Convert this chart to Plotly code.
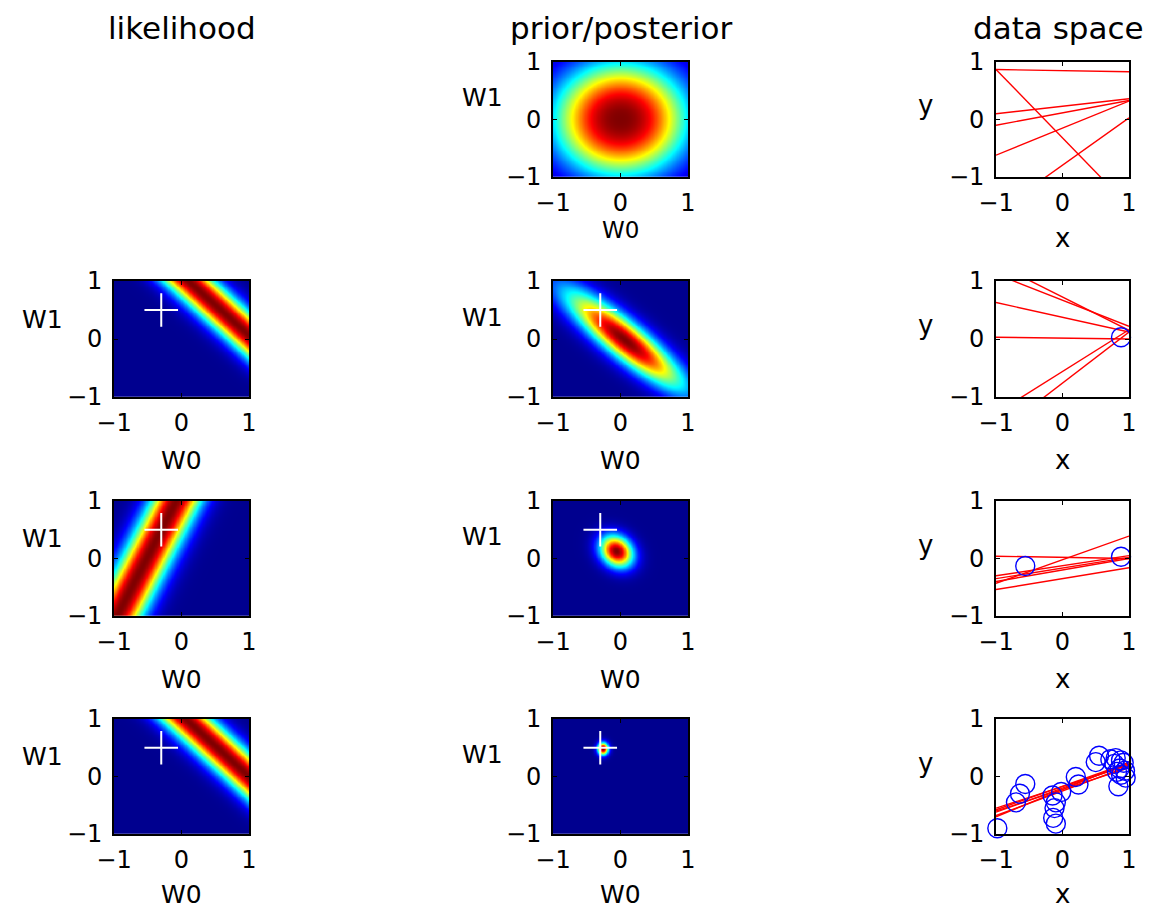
import numpy as np
import plotly.graph_objects as go

# ---------------- data ----------------
titles = ["likelihood", "prior/posterior", "data space"]
tick_vals = [-1, 0, 1]
tick_text = ["\u22121", "0", "1"]

true_w0 = -0.3
true_w1 = 0.5

# likelihood bands of the latest observation (rows 2-4): w0 + x*w1 = t
like_x = [0.95, -0.435, 0.93]
like_t = [1.05, -0.515, 0.99]
like_sd = [0.27, 0.26, 0.27]

# prior (row 1) and posteriors (rows 2-4) as gaussian-like ellipses
post_mean_w0 = [0.0, 0.06, -0.06, -0.26]
post_mean_w1 = [0.0, -0.02, 0.12, 0.48]
post_sd_major = [0.68, 0.80, 0.20, 0.075]
post_sd_minor = [0.68, 0.20, 0.155, 0.055]
post_angle_deg = [0.0, -44.0, -62.0, 90.0]
post_shape = [1.2, 1.0, 1.0, 1.0]

# sampled lines in data space (w0, w1) per row
lines_w0 = [
    [0.85, -0.32, 0.23, 0.115, -0.15, -0.794],
    [0.67, 0.724, 0.375, 0.015, -0.56, -0.76],
    [0.02, -0.02, -0.165, -0.20, -0.125, -0.35],
    [-0.175, -0.20, -0.25, -0.225, -0.225, -0.17],
]
lines_w1 = [
    [-0.02, -1.19, 0.13, 0.215, 0.47, 0.824],
    [-0.45, -0.574, -0.255, -0.015, 0.72, 0.88],
    [-0.02, 0.41, 0.185, 0.20, 0.175, 0.19],
    [0.375, 0.42, 0.43, 0.375, 0.475, 0.41],
]

# observed data points (in order of arrival)
data_x = [0.88, -0.56, -0.98, -0.64, -0.70, -0.15, -0.12, -0.14, -0.10, -0.10,
          -0.02, 0.20, 0.24, 0.50, 0.55, 0.72, 0.78, 0.80, 0.86, 0.88,
          0.92, 0.95, 0.84, 0.82, 0.94]
data_y = [0.03, -0.13, -0.90, -0.30, -0.45, -0.33, -0.55, -0.72, -0.82, -0.45,
          -0.27, -0.01, -0.14, 0.25, 0.36, 0.30, 0.22, 0.32, 0.14, 0.28,
          0.24, -0.02, -0.17, 0.08, 0.10]
points_per_row = [0, 1, 2, len(data_x)]

# ---------------- layout geometry (page pixels) ----------------
PAGE_W, PAGE_H = 1154, 911
BODY = 8                      # default page margin around the plot div
W, H = PAGE_W - BODY, PAGE_H - BODY
col_px = [(114, 249), (553, 688), (996, 1129)]
row_px = [(62, 177), (281, 397), (501, 616), (719, 834)]
xlabel_px = [230, 460, 679, 894]

FONT = "DejaVu Sans"
JET = [
    [0.0, "rgb(0,0,143)"],
    [0.11, "rgb(0,0,255)"],
    [0.36, "rgb(0,255,255)"],
    [0.61, "rgb(255,255,0)"],
    [0.86, "rgb(255,0,0)"],
    [1.0, "rgb(128,0,0)"],
]

grid = np.linspace(-1, 1, 241)
G0, G1 = np.meshgrid(grid, grid)


def like_field(i):
    r = G0 + like_x[i] * G1 - like_t[i]
    z = np.exp(-0.5 * (r / like_sd[i]) ** 2)
    return z / z.max()


def post_field(i):
    a = np.deg2rad(post_angle_deg[i])
    d0 = G0 - post_mean_w0[i]
    d1 = G1 - post_mean_w1[i]
    u = d0 * np.cos(a) + d1 * np.sin(a)
    v = -d0 * np.sin(a) + d1 * np.cos(a)
    q = 0.5 * ((u / post_sd_major[i]) ** 2 + (v / post_sd_minor[i]) ** 2)
    z = np.exp(-q ** post_shape[i])
    return z / z.max()


fig = go.Figure()
layout = {}
annotations = []


def px2paper_x(x):
    return (x - BODY) / W


def px2paper_y(y):
    return 1 - (y - BODY) / H


k = 0


def new_axes(r, c):
    global k
    k += 1
    xn = "xaxis" if k == 1 else f"xaxis{k}"
    yn = "yaxis" if k == 1 else f"yaxis{k}"
    xr = "x" if k == 1 else f"x{k}"
    yr = "y" if k == 1 else f"y{k}"
    common = dict(
        range=[-1, 1], tickmode="array", tickvals=tick_vals, ticktext=tick_text,
        ticks="inside", ticklen=4, tickwidth=1.3, tickcolor="black",
        showline=True, linecolor="black", linewidth=1.6, mirror="ticks",
        showgrid=False, zeroline=False, fixedrange=True, automargin=False,
        tickfont=dict(family=FONT, size=24, color="black"),
    )
    x0, x1 = col_px[c]
    y0, y1 = row_px[r]
    layout[xn] = dict(common, domain=[px2paper_x(x0), px2paper_x(x1)], anchor=yr,
                      ticklabelstandoff=3)
    layout[yn] = dict(common, domain=[px2paper_y(y1), px2paper_y(y0)], anchor=xr,
                      ticklabelstandoff=5)
    return xr, yr


def add_label(text, x, y, size):
    annotations.append(dict(
        text=text, x=px2paper_x(x), y=px2paper_y(y), xref="paper", yref="paper",
        xanchor="center", yanchor="middle", showarrow=False,
        font=dict(family=FONT, size=size, color="black"),
    ))


def add_cross(xr, yr):
    fig.add_trace(go.Scatter(
        x=[true_w0], y=[true_w1], mode="markers", xaxis=xr, yaxis=yr,
        marker=dict(symbol="cross-thin", size=24, color="white",
                    line=dict(color="white", width=2)),
        showlegend=False, hoverinfo="skip", cliponaxis=False,
    ))


for r in range(4):
    ctr_y = (row_px[r][0] + row_px[r][1]) / 2
    xlab_y = xlabel_px[r]
    xlab_font = 23 if r == 0 else 25

    # likelihood column
    if r > 0:
        xr, yr = new_axes(r, 0)
        fig.add_trace(go.Heatmap(
            x=grid, y=grid, z=like_field(r - 1), colorscale=JET, zmin=0, zmax=1,
            showscale=False, xaxis=xr, yaxis=yr, hoverinfo="skip"))
        add_cross(xr, yr)
        add_label("W1", 42, ctr_y - 20, 25)
        add_label("W0", (col_px[0][0] + col_px[0][1]) / 2, xlab_y, xlab_font)

    # prior / posterior column
    xr, yr = new_axes(r, 1)
    fig.add_trace(go.Heatmap(
        x=grid, y=grid, z=post_field(r), colorscale=JET, zmin=0, zmax=1,
        showscale=False, xaxis=xr, yaxis=yr, hoverinfo="skip"))
    if r > 0:
        add_cross(xr, yr)
    add_label("W1", 482, ctr_y - 22, 25)
    add_label("W0", (col_px[1][0] + col_px[1][1]) / 2, xlab_y, xlab_font)

    # data space column
    xr, yr = new_axes(r, 2)
    for w0, w1 in zip(lines_w0[r], lines_w1[r]):
        xs = [-1, 1]
        fig.add_trace(go.Scatter(
            x=xs, y=[w0 + w1 * xv for xv in xs], mode="lines", xaxis=xr, yaxis=yr,
            line=dict(color="rgb(255,0,0)", width=1.4),
            showlegend=False, hoverinfo="skip"))
    n = points_per_row[r]
    if n:
        fig.add_trace(go.Scatter(
            x=data_x[:n], y=data_y[:n], mode="markers", xaxis=xr, yaxis=yr,
            marker=dict(symbol="circle-open", size=19, color="rgb(0,0,255)",
                        line=dict(color="rgb(0,0,255)", width=1.4)),
            showlegend=False, hoverinfo="skip", cliponaxis=False))
    add_label("y", 925, ctr_y - 14, 26)
    add_label("x", (col_px[2][0] + col_px[2][1]) / 2,
              max(xlab_y, row_px[r][1] + 61) if r < 3 else xlab_y, 26)

# column titles
add_label(titles[0], 182, 28, 31)
add_label(titles[1], 621, 28, 31)
add_label(titles[2], 1058, 28, 31)

fig.update_layout(
    **layout,
    annotations=annotations,
    width=W, height=H, autosize=False,
    margin=dict(l=0, r=0, t=0, b=0, pad=0),
    paper_bgcolor="white", plot_bgcolor="white",
    showlegend=False,
)

fig.write_html("out.html")
